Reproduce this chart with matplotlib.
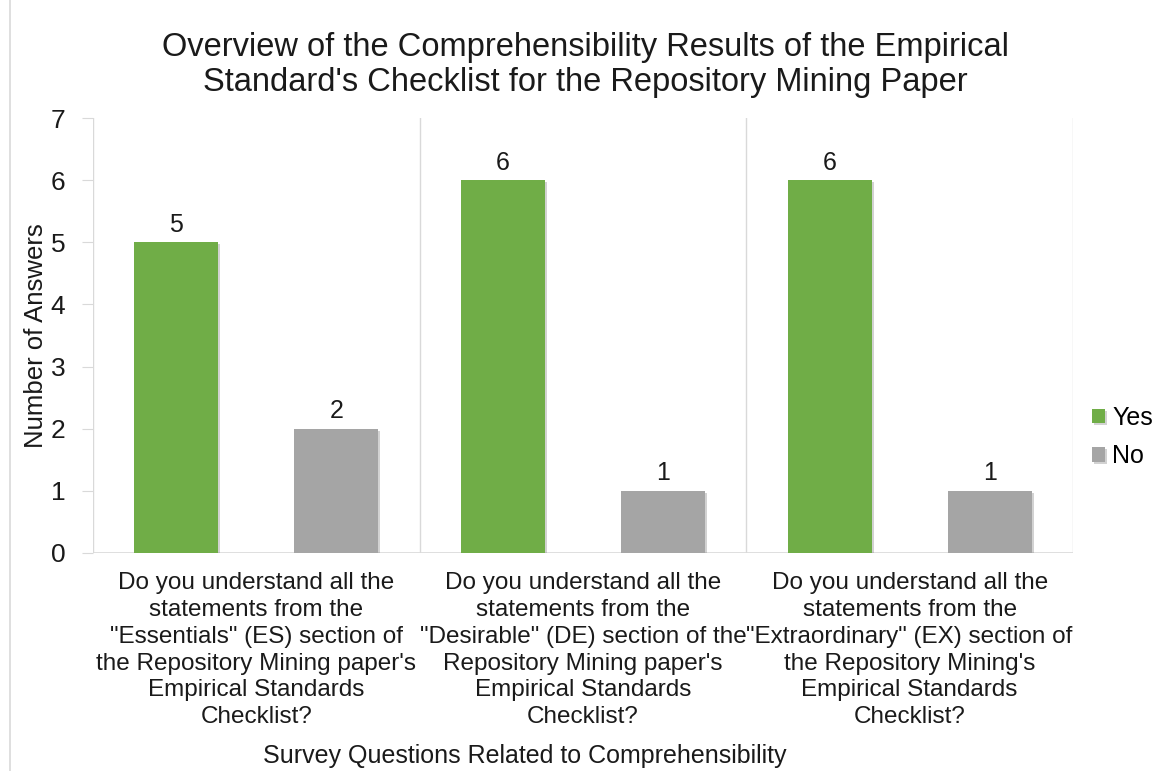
import matplotlib
matplotlib.use("Agg")
import matplotlib.pyplot as plt
import matplotlib.patheffects as pe
import numpy as np

plt.rcParams['font.family'] = ['Liberation Sans', 'DejaVu Sans']

# data
categories = [
    "Do you understand all the\nstatements from the\n\"Essentials\" (ES) section of\nthe Repository Mining paper's\nEmpirical Standards\nChecklist?",
    "Do you understand all the\nstatements from the\n\"Desirable\" (DE) section of the\nRepository Mining paper's\nEmpirical Standards\nChecklist?",
    "Do you understand all the\nstatements from the\n\"Extraordinary\" (EX) section of\nthe Repository Mining's\nEmpirical Standards\nChecklist?",
]
yes_counts = [5, 6, 6]
no_counts = [2, 1, 1]
series_names = ["Yes", "No"]

green = "#70AD47"
grey = "#A5A5A5"
grid_col = "#D9D9D9"
txt = "#1a1a1a"

fig = plt.figure(figsize=(11.58, 7.71), dpi=100)
ax = fig.add_axes([93 / 1158, 1 - 553 / 771, 980 / 1158, 435 / 771])

x = np.arange(len(categories))
w = 0.257
off = 0.245
shadow = [pe.SimplePatchShadow(offset=(1.5, -1.5), alpha=0.35, shadow_rgbFace="#808080"), pe.Normal()]

b1 = ax.bar(x - off, yes_counts, w, color=green, label=series_names[0], zorder=3)
b2 = ax.bar(x + off, no_counts, w, color=grey, label=series_names[1], zorder=3)
for bars in (b1, b2):
    for p in bars:
        p.set_path_effects(shadow)
    ax.bar_label(bars, padding=4, fontsize=18, color=txt)

ax.set_xlim(-0.5, 2.5)
ax.set_ylim(0, 7)
ax.set_yticks(range(0, 8))
ax.tick_params(axis='y', labelsize=19, length=8, color=grid_col, pad=12, labelcolor=txt)

# category labels
ax.set_xticks(x)
ax.set_xticklabels(categories, fontsize=17.5, linespacing=1.28, color=txt)
ax.tick_params(axis='x', length=0, pad=14)

# vertical category separators
for b in [-0.5, 0.5, 1.5, 2.5]:
    ax.axvline(b, color=grid_col, lw=1, zorder=1)
for s in ax.spines.values():
    s.set_visible(False)
ax.axhline(0, color=grid_col, lw=1.2, zorder=2)

ax.set_ylabel("Number of Answers", fontsize=18.5, color=txt, labelpad=2)

fig.text(585 / 1158, 1 - 65 / 771,
         "Overview of the Comprehensibility Results of the Empirical\nStandard's Checklist for the Repository Mining Paper",
         ha='center', va='center', fontsize=23.5, linespacing=1.17, color=txt)
fig.text(525 / 1158, 1 - 756 / 771, "Survey Questions Related to Comprehensibility",
         ha='center', va='center', fontsize=18, color=txt)

fig.legend(handles=[b1, b2], labels=series_names, loc='center left',
           bbox_to_anchor=(1092 / 1158, 1 - 437 / 771), frameon=False, fontsize=18,
           handlelength=0.5, handleheight=0.5, handletextpad=0.3, labelspacing=0.58,
           borderpad=0, borderaxespad=0)

# chart frame on the left
fig.add_artist(plt.Line2D([10 / 1158, 10 / 1158], [0, 1], color=grid_col, lw=1.2))

fig.savefig("out.png", dpi=100)
